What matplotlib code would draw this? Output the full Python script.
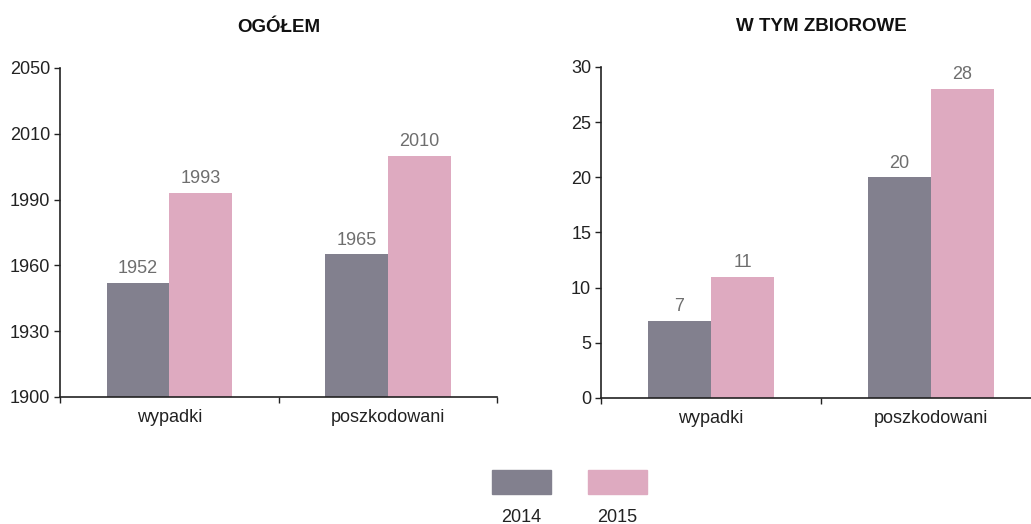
import matplotlib
matplotlib.use("Agg")
import matplotlib.pyplot as plt
from matplotlib.patches import Rectangle
import numpy as np

plt.rcParams["font.family"] = ["Liberation Sans", "DejaVu Sans"]

categories = ["wypadki", "poszkodowani"]
years = ["2014", "2015"]

total_2014 = [1952, 1965]
total_2015 = [1993, 2010]
total_ticks = [1900, 1930, 1960, 1990, 2020, 2050]
total_ticklabels = ["1900", "1930", "1960", "1990", "2010", "2050"]

group_2014 = [7, 20]
group_2015 = [11, 28]
group_ticks = [0, 5, 10, 15, 20, 25, 30]

C2014 = "#82808e"
C2015 = "#deaac0"
LABEL_GRAY = "#6e6e6e"
AXIS = "#222222"

fig = plt.figure(figsize=(10.31, 5.24), dpi=100)
ax1 = fig.add_axes([0.0582, 0.2424, 0.4239, 0.628])
ax2 = fig.add_axes([0.5829, 0.2405, 0.4268, 0.6317])


def draw_panel(ax, v14, v15, ylim, yticks, yticklabels, title):
    x = np.arange(len(categories))
    w = 0.287
    b1 = ax.bar(x - w / 2, [v - ylim[0] for v in v14], w, bottom=ylim[0], color=C2014)
    b2 = ax.bar(x + w / 2, [v - ylim[0] for v in v15], w, bottom=ylim[0], color=C2015)
    for bars, vals in ((b1, v14), (b2, v15)):
        for bar, v in zip(bars, vals):
            ax.annotate(str(v), (bar.get_x() + bar.get_width() / 2, v),
                        xytext=(0, 4), textcoords="offset points",
                        ha="center", va="bottom", fontsize=13, color=LABEL_GRAY)
    ax.set_xlim(-0.5, 1.5)
    ax.set_ylim(*ylim)
    ax.set_yticks(yticks)
    ax.set_yticklabels(yticklabels, fontsize=13, color=AXIS)
    ax.set_xticks([-0.5, 0.5, 1.5])
    ax.set_xticklabels([])
    ax.set_xticks(x, minor=True)
    ax.set_xticklabels(categories, minor=True, fontsize=13, color=AXIS)
    ax.tick_params(axis="x", which="minor", length=0, pad=9)
    ax.tick_params(axis="x", which="major", length=4, width=1, color=AXIS)
    ax.tick_params(axis="y", length=4, width=1, color=AXIS, pad=3)
    for side in ("top", "right"):
        ax.spines[side].set_visible(False)
    for side in ("left", "bottom"):
        ax.spines[side].set_color(AXIS)
        ax.spines[side].set_linewidth(1.2)
    ax.set_title(title, fontsize=13.5, fontweight="bold", pad=26, color="#111111")


draw_panel(ax1, total_2014, total_2015, (1900, 2050), total_ticks, total_ticklabels, "OGÓŁEM")
draw_panel(ax2, group_2014, group_2015, (0, 30), group_ticks,
           [str(t) for t in group_ticks], "W TYM ZBIOROWE")

# legend: swatches with the year below each
for i, (yr, col) in enumerate(zip(years, [C2014, C2015])):
    x0 = 492 + i * 96
    fig.patches.append(Rectangle((x0 / 1031, 1 - 494 / 524), 59 / 1031, 24 / 524,
                                 transform=fig.transFigure, color=col))
    fig.text((x0 + 29.5) / 1031, 1 - 517 / 524, yr, ha="center", va="center",
             fontsize=13, color=AXIS)

fig.savefig("out.png", dpi=100)
